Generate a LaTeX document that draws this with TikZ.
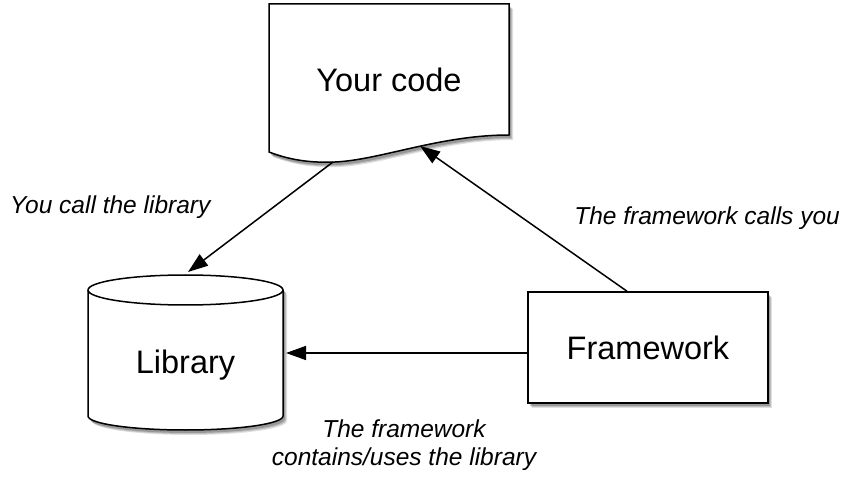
\documentclass[tikz,border=0pt]{standalone}
\usepackage{fontspec}
\setmainfont{Liberation Sans}
\usetikzlibrary{arrows.meta,shadows}
\begin{document}
\begin{tikzpicture}[x=1pt,y=1pt,
  shape line/.style={draw=black, line width=1.5pt, fill=white,
    drop shadow={shadow xshift=4pt, shadow yshift=-5pt, fill=black, opacity=0.12},
    drop shadow={shadow xshift=3pt, shadow yshift=-4pt, fill=black, opacity=0.15},
    drop shadow={shadow xshift=2pt, shadow yshift=-3pt, fill=black, opacity=0.2}},
  big/.style={font=\fontsize{32.5}{36}\selectfont, inner sep=0pt},
  lbl/.style={font=\fontsize{24.5}{30}\selectfont\itshape, inner sep=0pt, align=center},
  conn/.style={line width=1.5pt, -{Triangle[length=20pt,width=14pt]}}]
\useasboundingbox (0,0) rectangle (854,485);
% Your code (document shape)
\path[shape line] (269,481) -- (509,481) -- (509,350)
  .. controls (440,350) and (380,325) .. (335,323)
  .. controls (310,322) and (290,325) .. (269,333) -- cycle;
\node[big, anchor=base] (code) at (389,393) {Your code};
\coordinate (codeL) at (333,323);
\coordinate (codeR) at (420,339);
% Library (cylinder)
\path[shape line] (88,195) -- (88,69) arc (180:360:97.5 and 14) -- (283,195)
  arc (0:180:97.5 and 15) -- cycle;
\draw[line width=1.5pt] (88,195) arc (180:360:97.5 and 15);
\node[big, anchor=base] (lib) at (185.5,112) {Library};
\coordinate (libT) at (188,213);
\coordinate (libR) at (286,132);
% Framework
\node[shape line, minimum width=240pt, minimum height=111pt, inner sep=0pt] (fw) at (648,137.5) {};
\node[big, anchor=base] (fwt) at (648,125) {Framework};
\coordinate (fwT) at ([xshift=-21pt]fw.north);
\coordinate (fwW) at ([yshift=-5.5pt]fw.west);
% connectors
\draw[conn] (codeL) -- (libT);
\draw[conn] (fwT) -- (codeR);
\draw[conn] (fwW) -- (libR);
% labels
\node[lbl, anchor=base west] (l1) at (10,271) {You call the library};
\node[lbl, anchor=base east] (l2) at (840,260) {The framework calls you};
\node[lbl, anchor=base] (l3a) at (404,48) {The framework};
\node[lbl, anchor=base] (l3b) at (404,20) {contains/uses the library};
\end{tikzpicture}
\end{document}
